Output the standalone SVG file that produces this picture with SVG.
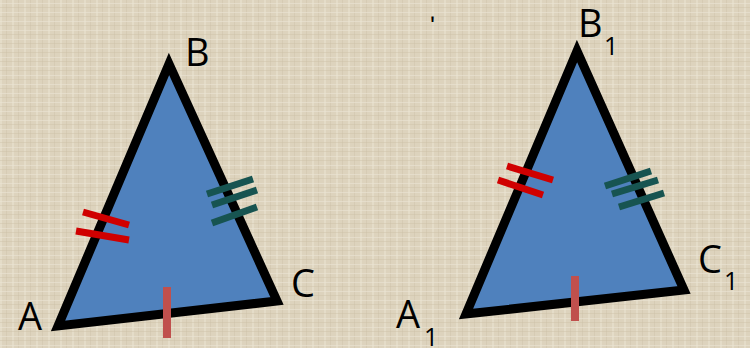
<svg xmlns="http://www.w3.org/2000/svg" width="750" height="348" viewBox="0 0 750 348">
<defs>
<pattern id="burlap" width="12" height="9" patternUnits="userSpaceOnUse">
<rect width="12" height="9" fill="#ddd3bd"/>
<rect x="0" y="0" width="2" height="9" fill="#e8e0cd" opacity="0.7"/>
<rect x="6" y="0" width="1" height="9" fill="#cfc4ab" opacity="0.5"/>
<rect x="0" y="3" width="12" height="1" fill="#ebe4d3" opacity="0.6"/>
<rect x="0" y="7" width="12" height="1" fill="#cbbfa6" opacity="0.4"/>
</pattern>
<style>
.tri{fill:#4f81bd;stroke:#000;stroke-width:9;stroke-linejoin:miter;stroke-miterlimit:10}
.red{stroke:#d00000;stroke-width:7;fill:none}
.grn{stroke:#175451;stroke-width:7;fill:none}
.pink{stroke:#c0504d;stroke-width:8;fill:none}
.lbl{font-family:"Open Sans","Liberation Sans",sans-serif;font-size:38px;fill:#000}
.sub{font-family:"Open Sans","Liberation Sans",sans-serif;font-size:25px;fill:#000}
</style>
</defs>
<rect width="750" height="348" fill="url(#burlap)"/>
<text x="430" y="34" style="font-family:'Liberation Sans',sans-serif;font-size:26px;fill:#000">ʹ</text>
<g id="triangle-ABC">
<polygon class="tri" points="58,326 169,64 277,301"/>
</g>
<g id="triangle-A1B1C1">
<polygon class="tri" points="466,314 577,51 684,290"/>
</g>
<g id="connectors">
<line class="red" x1="83" y1="212" x2="129" y2="225"/>
<line class="red" x1="76" y1="231" x2="129" y2="240"/>
<line class="grn" x1="207" y1="194" x2="253" y2="179"/>
<line class="grn" x1="212" y1="205" x2="257" y2="190"/>
<line class="grn" x1="212" y1="223" x2="257" y2="207"/>
<line class="pink" x1="167" y1="287" x2="167" y2="338"/>
<line class="red" x1="507" y1="166" x2="553" y2="180"/>
<line class="red" x1="498" y1="180" x2="543" y2="195"/>
<line class="grn" x1="605" y1="186" x2="651" y2="171"/>
<line class="grn" x1="612" y1="194" x2="658" y2="180"/>
<line class="grn" x1="619" y1="207" x2="664" y2="193"/>
<line class="pink" x1="575" y1="276" x2="575" y2="321"/>
</g>
<g id="label-A"><text class="lbl" x="18" y="330">A</text></g>
<g id="label-B"><text class="lbl" x="185" y="66">B</text></g>
<g id="label-C"><text class="lbl" x="291" y="297">C</text></g>
<g id="label-A1"><text class="lbl" x="396" y="328">A</text><text class="sub" x="424" y="346">1</text></g>
<g id="label-B1"><text class="lbl" x="578" y="37">B</text><text class="sub" x="604" y="55">1</text></g>
<g id="label-C1"><text class="lbl" x="698" y="273">C</text><text class="sub" x="724" y="290">1</text></g>
</svg>
